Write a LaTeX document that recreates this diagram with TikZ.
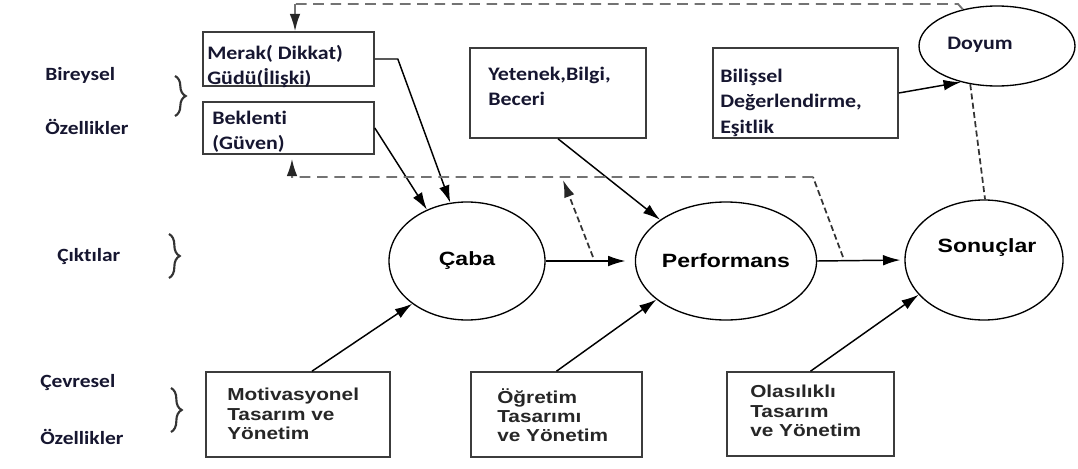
\documentclass[tikz,border=0pt]{standalone}
\usepackage{fontspec}
\newfontfamily\calfont{Carlito}[FakeStretch=1.15,Ligatures=NoCommon]
\newfontfamily\arfont{Liberation Sans}[FakeStretch=1.2]
\usetikzlibrary{arrows.meta,shapes.geometric,decorations.pathreplacing}
\definecolor{txtnavy}{RGB}{22,22,48}
\definecolor{boxgray}{RGB}{60,60,60}
\definecolor{dashgray}{RGB}{115,115,115}

\begin{document}
\begin{tikzpicture}[x=0.75pt,y=-0.75pt,
  lbl/.style={anchor=west,inner sep=0pt,text=txtnavy,font={\calfont\bfseries\fontsize{14}{18}\selectfont}},
  topbox/.style={draw=boxgray,line width=1.2pt,rectangle,inner sep=0pt},
  toptxt/.style={anchor=north west,inner sep=0pt,align=left,text=txtnavy,font={\calfont\bfseries\fontsize{14.3}{19}\selectfont}},
  lowtxt/.style={anchor=north west,inner sep=0pt,align=left,text=black!85,font={\arfont\bfseries\fontsize{13}{14.5}\selectfont}},
  ell/.style={draw,ellipse,line width=1pt,inner sep=0pt,font={\arfont\bfseries\fontsize{14.4}{16}\selectfont}},
  arr/.style={-{Latex[length=13pt,width=8pt]},line width=1.1pt},
  fbarr/.style={-{Latex[length=13pt,width=8pt,color=black!85]}},
  fbline/.style={dashgray,line width=1.4pt,dash pattern=on 8pt off 5pt},
  fbslant/.style={black!80,line width=1.3pt,dash pattern=on 4.5pt off 2.5pt},
  grp/.style={decorate,decoration={brace,amplitude=8pt},line width=1.6pt,black!80}
]
\useasboundingbox (0,0) rectangle (1078,468);

% left labels
\node[lbl] (bireysel) at (45,75) {Bireysel};
\node[lbl] (ozel1) at (45,127) {Özellikler};
\node[lbl] (ciktilar) at (57,257) {Çıktılar};
\node[lbl] (cevresel) at (40,383) {Çevresel};
\node[lbl] (ozel2) at (40,437) {Özellikler};
\draw[grp] (175,76) -- (175,116);
\draw[grp] (169,234) -- (169,278);
\draw[grp] (171,388) -- (171,432);

% top boxes
\node[topbox,minimum width=128.25pt,minimum height=40.5pt] (merak) at (288.5,59) {};
\node[toptxt] (merakT) at (207,45) {Merak( Dikkat)\\Güdü(İlişki)};
\node[topbox,minimum width=128.25pt,minimum height=39pt] (beklenti) at (288.5,128) {};
\node[toptxt] (beklentiT) at (212,111) {Beklenti\\(Güven)};
\node[topbox,minimum width=132pt,minimum height=67.5pt] (yetenek) at (558,93) {};
\node[toptxt] (yetenekT) at (488,67) {Yetenek,Bilgi,\\Beceri};
\node[topbox,minimum width=138.75pt,minimum height=67.5pt] (bilissel) at (805.5,93) {};
\node[toptxt] (bilisselT) at (720,69) {Bilişsel\\Değerlendirme,\\Eşitlik};
\node[ell,minimum width=117pt,minimum height=60pt] (doyum) at (997,46) {};
\node[toptxt,anchor=center] (doyumT) at (980,45) {Doyum};

% outcomes
\node[ell,minimum width=117pt,minimum height=88.5pt] (caba) at (467,261) {Çaba};
\node[ell,minimum width=115.5pt,minimum height=88.5pt] (perf) at (726,261) {Performans};
\node[ell,minimum width=118.5pt,minimum height=90pt] (sonuc) at (984,260) {};
\node[ell,draw=none] (sonucT) at (987,248) {Sonuçlar};

% bottom boxes
\node[topbox,minimum width=138pt,minimum height=63.75pt] (motiv) at (298,414.5) {};
\node[lowtxt] (motivT) at (227,388) {Motivasyonel\\Tasarım ve\\Yönetim};
\node[topbox,minimum width=128.25pt,minimum height=63.75pt] (ogretim) at (556.5,414.5) {};
\node[lowtxt] (ogretimT) at (497,388) {Öğretim\\Tasarımı\\ve Yönetim};
\node[topbox,minimum width=125.25pt,minimum height=63pt] (olasilik) at (810.5,414) {};
\node[lowtxt] (olasilikT) at (750,385) {Olasılıklı\\Tasarım\\ve Yönetim};

% solid connectors
\draw[arr] (merak.east) -- ++(23,0) -- (caba.106);
\draw[arr] (beklenti.east) -- (caba.128);
\draw[arr] (yetenek.south) -- (perf.148);
\draw[arr] (bilissel.east) -- (doyum.225);
\draw[arr,shorten >=7pt] (caba.east) -- (perf.west);
\draw[arr,shorten >=3pt] (perf.east) -- (sonuc.west);
\draw[arr] ([xshift=10.5pt]motiv.north) -- (caba.218);
\draw[arr] (ogretim.north) -- (perf.209);
\draw[arr] (olasilik.north) -- (sonuc.208);

% feedback lines
\coordinate (topR) at (958,4);
\coordinate (topL) at (295,4);
\coordinate (midR) at (813,177);
\coordinate (midL) at (292,177);
\coordinate (tapA) at (593,257);
\coordinate (tapAend) at (563,180);
\coordinate (tapB) at (843,257);
\draw[fbline] (doyum.133) -- (topR) -- (topL);
\draw[fbline,fbarr] (topL) -- ([xshift=4.9pt]merak.north);
\draw[fbslant] (tapB) -- (midR);
\draw[fbline,fbarr,shorten >=3pt] (midR) -- (midL) -- ([xshift=2.6pt]beklenti.south);
\draw[fbslant,fbarr] (tapA) -- (tapAend);
\draw[fbslant] (doyum.235) -- (sonuc.89);
\end{tikzpicture}
\end{document}
